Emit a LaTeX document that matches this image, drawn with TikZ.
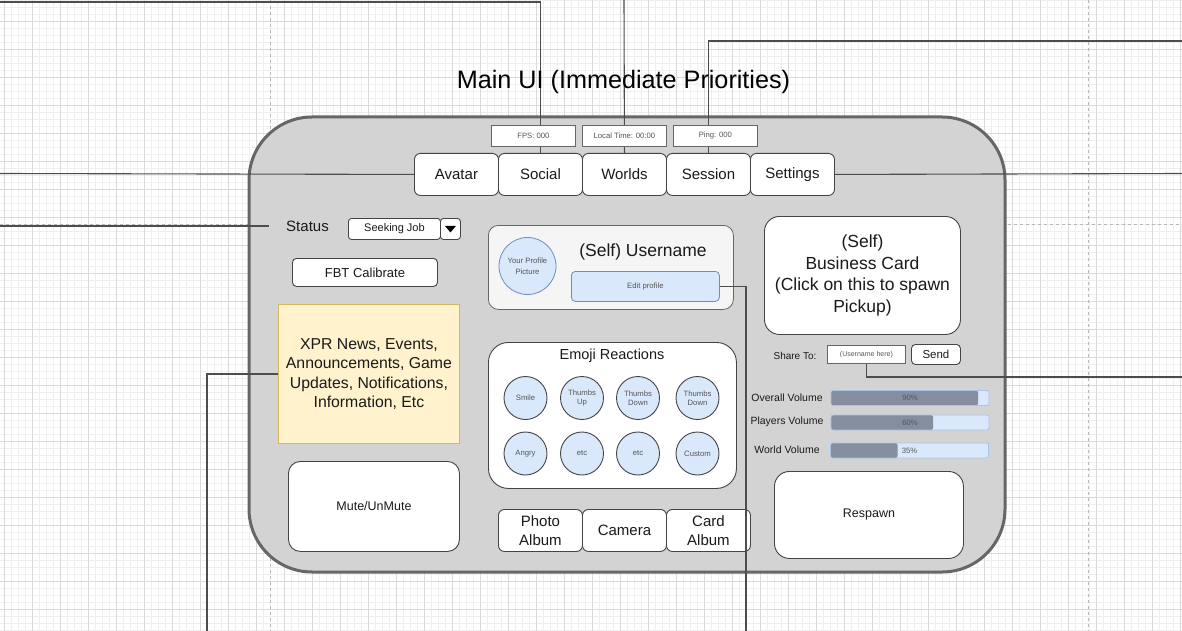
\documentclass[tikz,border=0pt]{standalone}
\usepackage{fontspec}
\setmainfont{Liberation Sans}
\usetikzlibrary{calc}
\definecolor{gridminor}{HTML}{EFEFEF}
\definecolor{gridmajor}{HTML}{DADADA}
\definecolor{pagebrk}{HTML}{B8B8B8}
\definecolor{linec}{HTML}{4D4D4D}
\definecolor{shapefill}{HTML}{D3D3D3}
\definecolor{shapeedge}{HTML}{666666}
\definecolor{btnedge}{HTML}{444444}
\definecolor{txt}{HTML}{1A1A1A}
\definecolor{smalltxt}{HTML}{555555}
\definecolor{bluefill}{HTML}{DAE8FC}
\definecolor{blueedge}{HTML}{6C8EBF}
\definecolor{barfill}{HTML}{DAE8FC}
\definecolor{baredge}{HTML}{A9C4EB}
\definecolor{bardark}{HTML}{858E9E}
\definecolor{notefill}{HTML}{FFF2CC}
\definecolor{noteedge}{HTML}{D6B656}
\definecolor{panelfill}{HTML}{F5F5F5}
\newcommand{\fsz}[2]{\fontsize{#1pt}{#2pt}\selectfont}
\tikzset{
  conn/.style={draw=linec, line width=1.1pt},
  gridmin/.style={draw=gridminor, line width=0.8pt},
  gridmaj/.style={draw=gridmajor, line width=0.8pt},
  pgbreak/.style={draw=pagebrk, line width=0.8pt, dash pattern=on 3pt off 3pt},
  box/.style={inner sep=0pt, anchor=north west, align=center, text=txt},
  btn/.style={box, draw=btnedge, fill=white, rounded corners=6pt, line width=0.9pt},
  infobox/.style={box, draw=shapeedge, fill=white, line width=0.8pt, text=smalltxt, font=\fsz{7.7}{9}, minimum width=84pt, minimum height=21pt},
  tab/.style={btn, minimum width=84pt, minimum height=42pt, font=\fsz{15}{19}},
  emo/.style={circle, draw=btnedge, fill=bluefill, line width=0.9pt, minimum size=43pt, inner sep=0pt, align=center, text=smalltxt, font=\fsz{7.7}{9.5}},
  lbl/.style={inner sep=0pt, text=txt, align=center},
  bar/.style={draw=baredge, fill=barfill, line width=0.8pt, rounded corners=2pt, minimum width=158pt, minimum height=15pt, inner sep=0pt, text=smalltxt, font=\fsz{7.7}{9}},
}
\begin{document}
\begin{tikzpicture}[x=1pt,y=-1pt]
\useasboundingbox (0,0) rectangle (1182,631);
\fill[white] (0,0) rectangle (1182,631);
% grid
\foreach \x in {4,11,...,1182} \draw[gridmin] (\x,0) -- (\x,631);
\foreach \y in {0,7,...,631} \draw[gridmin] (0,\y) -- (1182,\y);
\foreach \x in {4,32,...,1182} \draw[gridmaj] (\x,0) -- (\x,631);
\foreach \y in {21,49,...,631} \draw[gridmaj] (0,\y) -- (1182,\y);
% page breaks
\draw[pgbreak] (270,0) -- (270,631);
\draw[pgbreak] (1088,0) -- (1088,631);
\draw[pgbreak] (0,224) -- (1182,224);
% main frame
\draw[fill=shapefill, draw=shapeedge, line width=3pt, rounded corners=63pt] (249,117) rectangle (1005,572);

% free ends of connectors
\coordinate (e1) at (0,2);
\coordinate (e2) at (624,0);
\coordinate (e3) at (1182,41);
\coordinate (e4a) at (0,173.5);
\coordinate (e4b) at (1182,173.5);
\coordinate (e5) at (0,226);
\coordinate (e6) at (207,631);
\coordinate (e7) at (746,631);
\coordinate (e8) at (1182,377);

% tabs
\node[tab] (avatar) at (414,153) {Avatar};
\node[tab] (social) at (498,153) {Social};
\node[tab] (worlds) at (582,153) {Worlds};
\node[tab] (session) at (666,153) {Session};
\node[tab] (settings) at (750,153) {Settings};

% connectors behind boxes
\draw[conn] (e1) -| (social.north);
\draw[conn] (e2) -- (worlds.north);
\draw[conn] (e3) -| (session.north);
\draw[conn] (e4a) -- (avatar.west);
\draw[conn] (settings.east) -- (e4b);

% title
\node[lbl, text=black, font=\fsz{25.2}{30}] (title) at (623.5,81.5) {Main UI (Immediate Priorities)};

% info boxes
\node[infobox] (fps) at (491,125) {FPS: 000};
\node[infobox] (ltime) at (582,125) {Local Time: 00:00};
\node[infobox] (ping) at (673,125) {Ping: 000};

% left column
\node[lbl, font=\fsz{15}{18}, minimum width=77pt] (status) at (307.5,226) {Status};
\draw[conn] (e5) -- (status.west);
\node[btn, rounded corners=3pt, minimum width=92pt, minimum height=21pt, font=\fsz{11}{13}] (ddmain) at (348,218) {Seeking Job};
\node[btn, rounded corners=3pt, minimum width=20pt, minimum height=21pt] (ddarrow) at (440,218) {};
\fill[black] ($(ddarrow.center)+(-5.5,-3)$) -- ($(ddarrow.center)+(5.5,-3)$) -- ($(ddarrow.center)+(0,3.5)$) -- cycle;
\node[btn, rounded corners=4pt, minimum width=145pt, minimum height=28pt, font=\fsz{13}{16}] (fbt) at (292,258) {FBT Calibrate};
\node[box, draw=noteedge, fill=notefill, line width=0.9pt, minimum width=181pt, minimum height=139pt, font=\fsz{15.8}{19.5}] (xpr) at (278,304) {XPR News, Events,\\Announcements, Game\\Updates, Notifications,\\Information, Etc};
\draw[conn] (e6) |- (xpr.west);
\node[btn, rounded corners=12pt, minimum width=171pt, minimum height=90pt, font=\fsz{12.5}{15}] (mute) at (288,461) {Mute/UnMute};

% profile panel
\node[box, draw=shapeedge, fill=panelfill, rounded corners=10pt, line width=0.8pt, minimum width=245pt, minimum height=84pt] (profile) at (488,225) {};
\node[circle, draw=blueedge, fill=bluefill, line width=0.8pt, minimum size=57pt, inner sep=0pt, align=center, text=smalltxt, font=\fsz{7.7}{10.5}] (pic) at (527.5,266) {Your Profile\\Picture};
\node[lbl, font=\fsz{17.5}{21}] (uname) at (643,252) {(Self) Username};
\node[box, draw=blueedge, fill=bluefill, rounded corners=4pt, line width=0.8pt, minimum width=148pt, minimum height=30pt, text=smalltxt, font=\fsz{7.7}{9}] (edit) at (571,271) {Edit profile};

% emoji panel
\node[btn, rounded corners=20pt, minimum width=248pt, minimum height=146pt] (emopanel) at (488,342) {};
\node[lbl, font=\fsz{14.5}{17}] (emotitle) at (612,355.5) {Emoji Reactions};
\node[emo] (smile) at (525.5,398) {Smile};
\node[emo] (tup) at (582,398) {Thumbs\\Up};
\node[emo] (tdown) at (638,398) {Thumbs\\Down};
\node[emo] (tdown2) at (697.5,398) {Thumbs\\Down};
\node[emo] (angry) at (525.5,453.5) {Angry};
\node[emo] (etc1) at (582,453.5) {etc};
\node[emo] (etc2) at (638,453.5) {etc};
\node[emo] (custom) at (697.5,453.5) {Custom};

% bottom buttons
\node[tab] (photo) at (498,509) {Photo\\Album};
\node[tab] (camera) at (582,509) {Camera};
\node[tab] (card) at (666,509) {Card\\Album};

% right column
\node[btn, rounded corners=15pt, minimum width=196pt, minimum height=118pt, font=\fsz{17.5}{21.7}] (bcard) at (764,216) {(Self)\\Business Card\\(Click on this to spawn\\Pickup)};
\node[lbl, font=\fsz{10}{12}] (shareto) at (795,356) {Share To:};
\node[box, draw=shapeedge, fill=white, line width=0.8pt, minimum width=78pt, minimum height=18pt, text=smalltxt, font=\fsz{7}{8.5}] (share) at (827,345) {(Username here)};
\draw[conn] (share.south) |- (e8);
\node[btn, rounded corners=4pt, minimum width=49pt, minimum height=20pt, font=\fsz{11.5}{14}] (send) at (911,344) {Send};

\node[lbl, font=\fsz{10.5}{12}] (ovlbl) at (787,398) {Overall Volume};
\node[lbl, font=\fsz{10.5}{12}] (pllbl) at (787,422) {Players Volume};
\node[lbl, font=\fsz{10.5}{12}] (wolbl) at (787,449.5) {World Volume};
\node[bar, path picture={\fill[bardark] (path picture bounding box.south west) rectangle ([xshift=147pt]path picture bounding box.north west);}] (ovbar) at (910,398) {90\%};
\node[bar, path picture={\fill[bardark] (path picture bounding box.south west) rectangle ([xshift=102pt]path picture bounding box.north west);}] (plbar) at (910,422.5) {60\%};
\node[bar, path picture={\fill[bardark] (path picture bounding box.south west) rectangle ([xshift=67pt]path picture bounding box.north west);}] (wobar) at (909.5,450.5) {35\%};

\node[btn, rounded corners=15pt, minimum width=189pt, minimum height=87pt, font=\fsz{12.5}{15}] (respawn) at (774,471) {Respawn};

% connector over everything
\draw[conn] (edit.east) -| (e7);
\end{tikzpicture}
\end{document}
